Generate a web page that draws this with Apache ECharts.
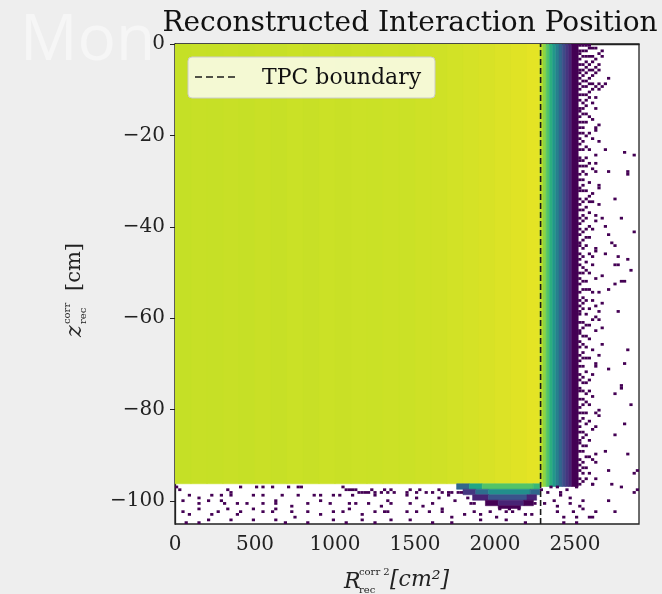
<!DOCTYPE html>
<html><head><meta charset="utf-8">
<script src="https://cdn.jsdelivr.net/npm/echarts@6/dist/echarts.min.js"></script>
<style>html,body{margin:0;padding:0;background:#eeeeee}#c{width:662px;height:594px}</style>
</head><body><div id="c"></div>
<script>
// ---------- data ----------
const xTicks = [0, 500, 1000, 1500, 2000, 2500];
const zTicks = [-100, -80, -60, -40, -20, 0];
const xRange = [0, 2900];
const zRange = [-105, 0];
const binW = 20;      // R^2 bin width [cm^2]
const binH = 0.6;     // z bin height [cm]
const tpcBoundary = 2285;
const legendLabel = 'TPC boundary';

// main body strips: [R2 from, R2 to, z low, z high, counts]
const bodyStrips = [
  [0,100,-96.2,0,545],[100,200,-96.2,0,560],[200,300,-96.2,0,550],[300,400,-96.2,0,565],
  [400,500,-96.2,0,555],[500,600,-96.2,0,570],[600,700,-96.2,0,560],[700,800,-96.2,0,575],
  [800,900,-96.2,0,565],[900,1000,-96.2,0,580],[1000,1100,-96.2,0,570],[1100,1200,-96.2,0,585],
  [1200,1300,-96.2,0,575],[1300,1400,-96.2,0,590],[1400,1500,-96.2,0,585],[1500,1600,-96.2,0,600],
  [1600,1700,-96.2,0,610],[1700,1800,-96.2,0,630],[1800,1900,-96.2,0,650],[1900,2000,-96.2,0,670],
  [2000,2100,-96.2,0,700],[2100,2200,-96.2,0,730],[2200,2280,-96.2,0,760]
];
// fall-off beyond the boundary
const edgeStrips = [
  [2280,2300,-96.8,0,520],[2300,2320,-96.8,0,300],[2320,2340,-96.8,0,150],[2340,2360,-96.8,0,75],
  [2360,2380,-96.8,0,40],[2380,2400,-96.8,0,20],[2400,2420,-96.8,0,10],[2420,2440,-96.8,0,5],
  [2440,2460,-96.8,0,3],[2460,2480,-96.8,0,2],[2480,2500,-96.8,0,1],[2500,2520,-96.8,0,1]
];
// bottom bulge near the wall
const bulgeStrips = [
  [1760,1840,-97.4,-96.2,10],[1840,1920,-97.4,-96.2,60],[1920,2240,-97.4,-96.2,150],[2240,2280,-97.4,-96.2,100],
  [1800,1880,-98.6,-97.4,3],[1880,1960,-98.6,-97.4,12],[1960,2220,-98.6,-97.4,30],[2220,2280,-98.6,-97.4,10],
  [1860,1960,-99.8,-98.6,2],[1960,2200,-99.8,-98.6,6],[2200,2260,-99.8,-98.6,2],
  [1940,2020,-101.0,-99.8,1],[2020,2180,-101.0,-99.8,2],[2180,2240,-101.0,-99.8,1],
  [2020,2160,-101.6,-101.0,1]
];
// sparse single-count bins at the outer edge (per column)
const tailColumnR2 = [2520, 2540, 2560, 2580, 2600, 2620, 2640, 2660];
const tailColumnZ = [
  [-0.2,-1.4,-2.1,-3.5,-4.2,-5.6,-6.3,-7.7,-9.0,-9.8,-11.2,-12.5,-13.9,-14.6,-16.0,-17.4,-18.1,-19.6,-21.0,-21.7,-23.1,-24.8,-25.5,-26.9,-28.3,-29.9,-31.4,-32.1,-33.6,-35.2,-36.4,-37.9,-39.5,-40.2,-41.8,-43.6,-44.3,-45.9,-47.4,-48.5,-50.2,-51.6,-52.8,-54.1,-55.9,-57.2,-58.6,-59.3,-61.0,-62.8,-63.5,-65.0,-66.6,-68.2,-69.4,-70.8,-72.1,-73.7,-75.3,-76.0,-77.9,-79.4,-80.6,-82.3,-83.5,-85.0,-86.8,-87.6,-89.2,-90.9,-92.3,-93.6,-95.2,-96.4],
  [-0.5,-1.8,-3.0,-4.4,-5.5,-7.0,-8.2,-9.6,-11.0,-12.8,-14.1,-15.5,-16.9,-18.3,-19.8,-21.2,-23.4,-25.8,-27.0,-28.2,-29.6,-31.0,-32.4,-34.8,-36.1,-37.4,-38.9,-41.3,-43.0,-44.6,-46.2,-48.7,-50.1,-51.9,-53.5,-55.2,-56.6,-58.0,-60.9,-62.4,-64.0,-65.7,-67.3,-68.9,-70.6,-72.8,-74.1,-75.8,-77.5,-79.2,-80.5,-82.0,-84.7,-86.3,-87.7,-89.1,-91.6,-92.9,-94.0,-95.8],
  [-0.5,-1.5,-2.5,-4.0,-5.2,-6.5,-8.0,-9.5,-11.0,-12.2,-13.5,-15.4,-17.2,-20.1,-22.3,-24.6,-26.5,-28.8,-31.9,-33.7,-35.5,-38.1,-40.2,-42.4,-44.1,-47.5,-49.6,-51.8,-54.0,-56.3,-59.4,-61.6,-63.9,-66.1,-68.5,-71.9,-74.0,-76.2,-78.5,-80.8,-83.1,-85.3,-88.0,-90.4,-92.7,-95.1],
  [-0.3,-1.2,-3.0,-4.5,-6.0,-7.5,-9.0,-10.6,-12.0,-15.8,-19.4,-22.9,-26.1,-30.3,-34.2,-37.0,-39.8,-42.6,-46.0,-49.9,-53.7,-57.7,-61.2,-64.8,-69.0,-73.3,-76.1,-78.9,-82.6,-86.9,-90.3,-93.9],
  [-1.0,-2.5,-4.0,-5.5,-7.0,-8.6,-10.0,-13.0,-16.4,-20.8,-27.5,-32.9,-40.7,-48.3,-55.9,-60.1,-66.7,-72.5,-77.3,-84.4,-91.0],
  [-0.8,-3.3,-5.0,-6.5,-9.5,-11.8,-14.0,-19.0,-26.2,-38.6,-44.9,-59.9,-70.3,-83.6],
  [-2.0,-4.2,-6.0,-8.9],
  [-1.5,-3.0]
];
// isolated single-count bins right of the wall: [R2, z]
const tailOutliers = [
  [2710,-7.3],[2689,-8.4],[2668,-9.1],[2648,-10.2],[2648,-17.5],[2637,-18.2],[2648,-21.5],
  [2804,-23.7],[2866,-24.4],[2689,-23.3],[2627,-24.4],[2835,-28.1],[2825,-28.7],[2700,-27.9],
  [2637,-28.1],[2648,-30.6],[2658,-31.3],[2752,-33.7],[2585,-33.2],[2606,-34.2],[2648,-35.0],
  [2637,-37.2],[2668,-37.9],[2783,-37.9],[2689,-39.7],[2700,-41.9],[2866,-41.4],[2731,-43.7],
  [2741,-44.4],[2689,-45.9],[2637,-45.5],[2606,-46.6],[2762,-46.3],[2773,-48.5],[2752,-48.1],
  [2825,-47.0],[2845,-49.5],[2793,-52.1],[2814,-52.1],[2752,-52.5],[2668,-51.0],[2637,-51.4],
  [2710,-53.9],[2648,-54.6],[2616,-54.6],[2679,-56.5],[2762,-58.7],[2627,-57.6],[2658,-58.3],
  [2648,-60.5],[2668,-61.9],[2627,-62.7],[2825,-67.0],[2648,-68.1],[2637,-69.9],[2700,-71.0],
  [2814,-69.9],[2668,-65.6],[2793,-74.7],[2783,-75.4],[2752,-76.5],[2658,-80.1],[2637,-80.5],
  [2648,-81.2],[2845,-78.7],[2814,-83.1],[2752,-85.6],[2689,-89.3],[2825,-89.6],[2637,-91.8],
  [2627,-89.6],[2700,-93.3],[2866,-94.0],[2887,-93.3],[2887,-97.6],[2627,-95.1],[2606,-96.2]
];
// isolated single-count bins below the active volume: [R2, z]
const floorDots = [
  [13,-97.1],[34,-97.5],[326,-97.5],[347,-97.9],[409,-96.8],[513,-97.1],[555,-96.8],[607,-97.1],
  [711,-97.1],[773,-97.1],[794,-96.8],[1044,-96.9],[1065,-97.3],[1086,-97.5],[1107,-97.5],[1138,-97.5],
  [1150,-97.9],[1169,-97.9],[1190,-97.9],[1211,-97.9],[1230,-97.5],[1252,-97.9],[1284,-97.9],[1300,-97.5],
  [1336,-97.9],[1355,-97.5],[1377,-98.2],[1440,-97.9],[1460,-97.5],[1502,-97.9],[1530,-97.5],[1575,-97.9],
  [1606,-98.2],[1648,-97.5],[1670,-97.9],[1710,-98.2],[1730,-97.9],[1762,-97.9],
  [97,-98.9],[149,-99.3],[232,-98.9],[284,-98.9],[347,-98.6],[482,-98.6],[555,-98.6],[669,-98.9],
  [763,-98.9],[628,-99.7],[867,-98.6],[919,-98.9],[982,-98.6],[1034,-98.9],[1107,-98.6],[1252,-98.9],
  [1336,-99.7],[1440,-98.9],[1502,-99.3],[1648,-99.3],[1710,-98.9],
  [55,-99.7],[149,-100.4],[211,-100.0],[295,-100.0],[315,-100.8],[399,-100.4],[451,-100.4],[544,-100.8],
  [628,-100.4],[721,-101.1],[836,-100.4],[909,-100.0],[961,-100.4],[1086,-100.8],[1138,-100.4],[1211,-100.8],
  [1294,-101.1],[1356,-100.4],[1461,-100.4],[1544,-101.1],[1617,-100.8],[1669,-101.5],[1752,-100.0],
  [45,-102.6],[86,-102.9],[149,-101.9],[232,-102.9],[274,-102.6],[336,-101.5],[388,-102.9],[419,-102.6],
  [482,-101.9],[544,-102.6],[607,-102.2],[638,-101.5],[721,-102.6],[753,-103.3],[836,-102.2],[919,-102.9],
  [992,-102.2],[1044,-102.6],[1086,-101.9],[1169,-102.9],[1242,-102.2],[1315,-102.2],[1336,-102.6],
  [1440,-102.6],[1502,-102.6],[1585,-102.6],[1669,-102.2],[1731,-103.3],[1814,-102.9],[1867,-102.6],
  [1908,-102.9],[1960,-102.6],[2002,-103.3],[2064,-102.6],[2106,-102.6],[2189,-102.9],[2231,-102.9],
  [2030,-101.9],[2090,-101.9],[2150,-101.9],[1850,-100.4],[1870,-100.8],[2240,-100.4],[1790,-98.2],[1830,-99.3],
  [66,-104.4],[149,-104.4],[211,-104.0],[347,-104.0],[482,-104.0],[628,-104.0],[690,-104.4],[836,-104.4],
  [982,-104.0],[1065,-104.4],[1169,-104.0],[1252,-104.4],[1356,-104.0],[1461,-104.0],[1606,-104.4],
  [1731,-104.4],[1918,-104.0],[2064,-104.0],[2189,-104.4],
  [2293,-97.5],[2325,-97.9],[2345,-96.8],[2387,-96.8],[2408,-98.2],[2450,-97.5],[2512,-97.1],[2616,-96.4],
  [2720,-96.4],[2793,-96.8],[2314,-100.4],[2377,-100.0],[2460,-99.3],[2543,-99.7],[2398,-102.6],
  [2481,-102.2],[2585,-103.3],[2637,-102.6],[2710,-99.7],[2752,-102.6],[2439,-104.4],[2512,-104.4],
  [2876,-97.9],[2408,-98.7],[2398,-100.9],[2460,-100.5],[2523,-101.3],[2554,-101.6],[2606,-103.5],
  [2502,-103.8],[2429,-103.8]
];

// ---------- build cells ----------
const cells = [];
[bodyStrips, edgeStrips, bulgeStrips].forEach(list =>
  list.forEach(s => cells.push([s[0], s[1], s[2], s[3], Math.log10(s[4]), 1])));
function addDot(u, z) {
  const x0 = Math.floor(u / binW) * binW;
  const z0 = Math.floor(z / binH) * binH;
  cells.push([x0, x0 + binW, z0, z0 + binH, 0, 0]);
}
tailColumnR2.forEach((r, i) => tailColumnZ[i].forEach(z => addDot(r + 1, z)));
tailOutliers.forEach(d => addDot(d[0], d[1]));
floorDots.forEach(d => addDot(d[0], d[1]));

const viridis = ['#440154','#482475','#414487','#355f8d','#2a788e','#21918c','#22a884','#44bf70','#7ad151','#bddf26','#fde725'];
const serif = '"DejaVu Serif", "Liberation Serif", serif';
const fmtMinus = v => (v < 0 ? '\u2212' + (-v) : String(v));

const chart = echarts.init(document.getElementById('c'), null, {renderer: 'canvas'});
chart.setOption({
  backgroundColor: '#eeeeee',
  animation: false,
  title: {
    text: 'Reconstructed Interaction Position',
    left: 405, top: 5, textAlign: 'center',
    textStyle: {fontFamily: serif, fontSize: 28, fontWeight: 'normal', color: '#111'}
  },
  grid: {left: 175, right: 23, top: 44, bottom: 70, show: true, backgroundColor: '#ffffff',
         borderColor: '#222', borderWidth: 1.3},
  xAxis: {
    type: 'value', min: xRange[0], max: xRange[1],
    axisLine: {show: true, lineStyle: {color: '#222', width: 1.3}},
    axisTick: {show: true, length: 5, customValues: xTicks, lineStyle: {color: '#222'}},
    axisLabel: {customValues: xTicks, margin: 11, fontFamily: serif, fontSize: 20, color: '#222', formatter: v => String(v)},
    splitLine: {show: false}
  },
  yAxis: {
    type: 'value', min: zRange[0], max: zRange[1],
    axisLine: {show: true, lineStyle: {color: '#222', width: 1.3}},
    axisTick: {show: true, length: 5, customValues: zTicks, lineStyle: {color: '#222'}},
    axisLabel: {customValues: zTicks, margin: 10, fontFamily: serif, fontSize: 20, color: '#222', formatter: fmtMinus},
    splitLine: {show: false}
  },
  visualMap: {
    type: 'continuous', show: false, min: 0, max: 3, dimension: 4, seriesIndex: 0,
    inRange: {color: viridis}
  },
  series: [
    {
      type: 'custom', name: 'hist', clip: true, silent: true,
      encode: {x: [0, 1], y: [2, 3]},
      data: cells,
      renderItem: function (params, api) {
        const p0 = api.coord([api.value(0), api.value(3)]);
        const p1 = api.coord([api.value(1), api.value(2)]);
        const col = api.visual('color');
        const solid = api.value(5) === 1;
        return {
          type: 'rect',
          shape: {x: p0[0], y: p0[1], width: p1[0] - p0[0], height: p1[1] - p0[1]},
          style: {fill: col, stroke: solid ? col : null, lineWidth: solid ? 0.6 : 0}
        };
      }
    },
    {
      type: 'line', name: legendLabel, symbol: 'none', silent: true, z: 5,
      data: [[tpcBoundary, zRange[0]], [tpcBoundary, zRange[1]]],
      lineStyle: {color: '#1a1a1a', width: 1.6, type: [6, 3]}
    }
  ],
  graphic: [
    {type: 'text', left: 20, top: 10, z: -10, silent: true,
     style: {text: 'Mon', font: '64px "Open Sans", sans-serif', fill: '#f6f6f6'}},
    // legend
    {type: 'rect', silent: true, z: 20, shape: {x: 188, y: 57, width: 247, height: 41, r: 4},
     style: {fill: 'rgba(255,255,255,0.8)', stroke: '#cccccc', lineWidth: 1}},
    {type: 'line', silent: true, z: 21, shape: {x1: 195, y1: 77, x2: 238, y2: 77},
     style: {stroke: '#1a1a1a', lineWidth: 1.6, lineDash: [7, 4]}},
    {type: 'text', silent: true, z: 21, x: 262, y: 78,
     style: {text: legendLabel, font: '22px ' + serif, fill: '#111', verticalAlign: 'middle'}},
    // y axis name
    {type: 'group', x: 75, y: 287, rotation: Math.PI / 2, silent: true, children: [
      {type: 'text', x: -50, y: 0, style: {text: 'z', font: 'italic 22px ' + serif, fill: '#222', verticalAlign: 'middle', align: 'left'}},
      {type: 'text', x: -37, y: -8, style: {text: 'corr', font: '10px ' + serif, fill: '#222', verticalAlign: 'middle', align: 'left'}},
      {type: 'text', x: -37, y: 8, style: {text: 'rec', font: '10px ' + serif, fill: '#222', verticalAlign: 'middle', align: 'left'}},
      {type: 'text', x: -4, y: 0, style: {text: '[cm]', font: '21px ' + serif, fill: '#222', verticalAlign: 'middle', align: 'left'}}
    ]},
    // x axis name
    {type: 'text', x: 344, y: 582, silent: true, style: {text: 'R', font: 'italic 22px ' + serif, fill: '#222', verticalAlign: 'middle'}},
    {type: 'text', x: 359, y: 572, silent: true, style: {text: 'corr 2', font: '10px ' + serif, fill: '#222', verticalAlign: 'middle'}},
    {type: 'text', x: 359, y: 590, silent: true, style: {text: 'rec', font: '10px ' + serif, fill: '#222', verticalAlign: 'middle'}},
    {type: 'text', x: 390, y: 580, silent: true, style: {text: '[cm²]', font: 'italic 22px ' + serif, fill: '#222', verticalAlign: 'middle'}}
  ]
});
</script>
</body></html>
